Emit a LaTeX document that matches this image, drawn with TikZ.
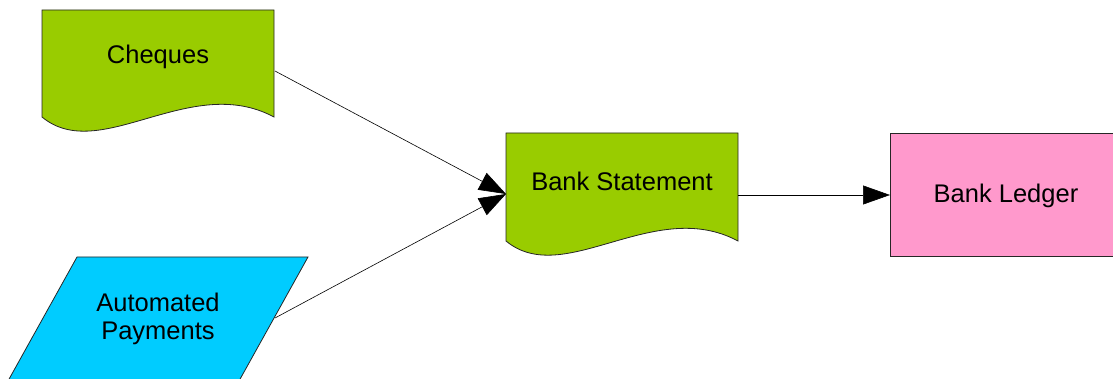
\documentclass[tikz,border=0pt]{standalone}
\usepackage{fontspec}
\setmainfont{Liberation Sans}
\usetikzlibrary{arrows.meta}
\definecolor{docgreen}{HTML}{99CC00}
\definecolor{paycyan}{HTML}{00CCFF}
\definecolor{ledgerpink}{HTML}{FF99CC}
\tikzset{
  shapeline/.style={draw=black!85, line width=0.8pt},
  lbl/.style={font=\fontsize{25.5}{27.5}\selectfont, align=center, inner sep=0pt},
  conn/.style={draw=black, line width=0.6pt, -{Triangle[length=27pt,width=19pt]}}
}
\begin{document}
\begin{tikzpicture}[x=1pt,y=-1pt]
\useasboundingbox (0,0) rectangle (1113,379);
% Cheques document
\filldraw[shapeline, fill=docgreen] (42,10) -- (274,10) -- (274,117)
  .. controls (190,72) and (100,165) .. (42,117) -- cycle;
\node[lbl] (cheq) at (158,57) {Cheques};
% Bank Statement document
\filldraw[shapeline, fill=docgreen] (506,133) -- (738,133) -- (738,241)
  .. controls (654,196) and (564,289) .. (506,241) -- cycle;
\node[lbl] (stmt) at (622,181) {Bank Statement};
% Bank Ledger
\filldraw[shapeline, fill=ledgerpink] (890,133) rectangle (1116,256);
\node[lbl] (ledger) at (1006,196) {Bank Ledger};
% Automated Payments parallelogram
\filldraw[shapeline, fill=paycyan] (77,257) -- (308,257) -- (239,381) -- (8,381) -- cycle;
\node[lbl] (pay) at (158,319) {Automated\\Payments};
% connection points
\coordinate (cheqout) at (275,71);
\coordinate (payout) at (275,318);
\coordinate (stmtin) at (506,194);
\coordinate (stmtout) at (738,195);
\coordinate (ledgerin) at (890,195);
\draw[conn] (cheqout) -- (stmtin);
\draw[conn] (payout) -- (stmtin);
\draw[conn] (stmtout) -- (ledgerin);
\end{tikzpicture}
\end{document}
